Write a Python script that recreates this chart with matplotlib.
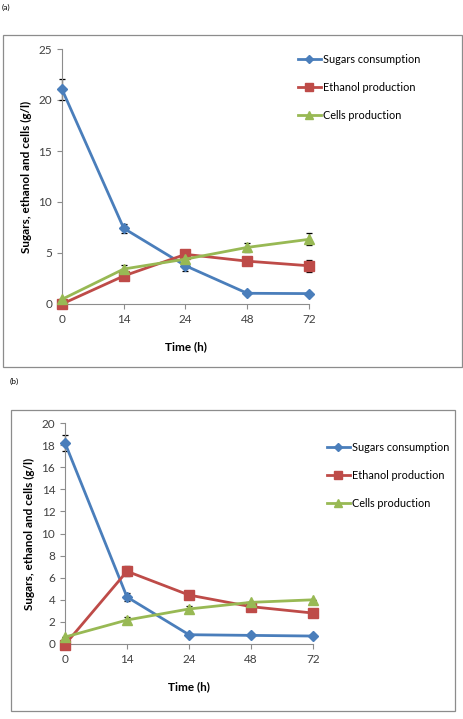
import matplotlib
matplotlib.use("Agg")
import matplotlib.pyplot as plt
from matplotlib.patches import Rectangle

plt.rcParams["font.family"] = ["Lato", "DejaVu Sans"]

times = ["0", "14", "24", "48", "72"]

# panel (a)
sugars_a = [21.05, 7.42, 3.75, 1.05, 1.02]
sugars_a_err = [1.05, 0.45, 0.5, 0.0, 0.0]
ethanol_a = [0.0, 2.75, 4.87, 4.2, 3.75]
ethanol_a_err = [0.0, 0.0, 0.3, 0.4, 0.6]
cells_a = [0.46, 3.43, 4.4, 5.55, 6.34]
cells_a_err = [0.0, 0.4, 0.0, 0.45, 0.6]

# panel (b)
sugars_b = [18.2, 4.25, 0.84, 0.78, 0.72]
sugars_b_err = [0.75, 0.35, 0.0, 0.0, 0.0]
ethanol_b = [-0.05, 6.58, 4.43, 3.38, 2.8]
ethanol_b_err = [0.0, 0.45, 0.0, 0.0, 0.0]
cells_b = [0.63, 2.17, 3.17, 3.77, 4.0]
cells_b_err = [0.0, 0.3, 0.3, 0.0, 0.0]

BLUE, RED, GREEN = "#4A7EBB", "#BE4B48", "#98B954"
GRID = "#8C8C8C"
W, H = 464, 719


def fx(px):
    return px / W


def fy(py):
    return 1 - py / H


def draw_panel(fig, rect, series, ymax, ystep, legend_xy):
    ax = fig.add_axes(rect)
    x = list(range(len(times)))
    specs = [
        ("Sugars consumption", BLUE, "D", 5.5),
        ("Ethanol production", RED, "s", 6.5),
        ("Cells production", GREEN, "^", 6.5),
    ]
    for (label, color, marker, ms), (vals, errs) in zip(specs, series):
        ax.errorbar(x, vals, yerr=errs, fmt="none", ecolor="black",
                    elinewidth=0.9, capsize=2.5, capthick=0.9,
                    clip_on=False, zorder=2)
        ax.plot(x, vals, color=color, lw=2, marker=marker, ms=ms,
                label=label, clip_on=False, zorder=3)
    ax.set_xlim(0, len(times) - 1)
    ax.set_ylim(0, ymax)
    ax.set_yticks(range(0, ymax + 1, ystep))
    ax.set_xticks(x)
    ax.set_xticklabels(times)
    for side in ("top", "right"):
        ax.spines[side].set_visible(False)
    for side in ("left", "bottom"):
        ax.spines[side].set_color(GRID)
        ax.spines[side].set_linewidth(0.8)
    ax.tick_params(colors=GRID, labelcolor="#404040", labelsize=8.5,
                   length=3.5, width=0.8)
    ax.tick_params(axis="x", pad=4)
    ax.set_xlabel("Time (h)", fontsize=8.5, fontweight="bold", labelpad=11)
    ax.set_ylabel("Sugars, ethanol and cells (g/l)", fontsize=8.5,
                  fontweight="bold", labelpad=5)
    ax.legend(loc="upper left", bbox_to_anchor=legend_xy,
              bbox_transform=fig.transFigure, frameon=False, fontsize=7.8,
              borderpad=0, borderaxespad=0, labelspacing=1.55,
              handlelength=2.1, handletextpad=0.25, markerscale=0.8)
    return ax


fig = plt.figure(figsize=(W / 100, H / 100), dpi=100)

fig.add_artist(Rectangle((fx(3), fy(367)), fx(459), 332 / H, fill=False,
                         edgecolor=GRID, lw=0.9, transform=fig.transFigure))
fig.add_artist(Rectangle((fx(11), fy(711)), fx(444), 301 / H, fill=False,
                         edgecolor=GRID, lw=0.9, transform=fig.transFigure))

draw_panel(fig, [fx(62), fy(304), fx(247), 255 / H],
           [(sugars_a, sugars_a_err), (ethanol_a, ethanol_a_err),
            (cells_a, cells_a_err)], 25, 5, (fx(298), fy(54)))
draw_panel(fig, [fx(65), fy(644), fx(248), 221 / H],
           [(sugars_b, sugars_b_err), (ethanol_b, ethanol_b_err),
            (cells_b, cells_b_err)], 20, 2, (fx(327), fy(442)))

fig.text(fx(2), fy(7), "(a)", fontsize=6, va="center", ha="left")
fig.text(fx(10), fy(381), "(b)", fontsize=6, va="center", ha="left")

fig.savefig("out.png", dpi=100)
